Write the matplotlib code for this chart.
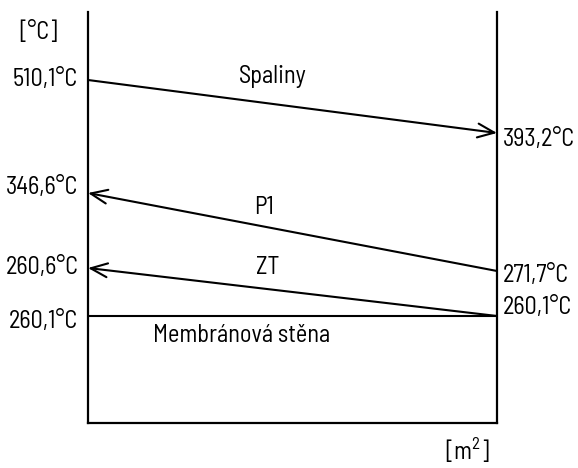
import matplotlib
matplotlib.use('Agg')
import matplotlib.pyplot as plt

plt.rcParams['font.family'] = ['Barlow Semi Condensed', 'DejaVu Sans']
plt.rcParams['mathtext.fontset'] = 'custom'
plt.rcParams['mathtext.rm'] = 'Barlow Semi Condensed'

# teploty proudu (vstup/vystup) a jejich schematicka vyska v diagramu
streams = ['Spaliny', 'P1', 'ZT', 'Membránová stěna']
t_left = [510.1, 346.6, 260.6, 260.1]
t_right = [393.2, 271.7, 260.1, 260.1]
lvl_left = [343, 230, 155, 107]
lvl_right = [290, 152, 107, 107]
# smer toku: 1 = zleva doprava, -1 = zprava doleva, 0 = bez sipky
direction = [1, -1, -1, 0]

def fmt(t):
    return ('%.1f' % t).replace('.', ',') + '°C'

fig = plt.figure(figsize=(5.78, 4.68), dpi=100)
W, H = 578, 468
ax = fig.add_axes([88 / W, (468 - 423) / H, (497 - 88) / W, (423 - 12) / H])
ax.set_xlim(0, 1)
ax.set_ylim(0, 411)
ax.set_xticks([])
ax.set_yticks([])
ax.spines['top'].set_visible(False)
for s in ['left', 'right', 'bottom']:
    ax.spines[s].set_linewidth(1.6)

# offsety popisku v bodech (dx, dy)
lab_left_off = [(-7, 0), (-7, 3.6), (-7, 0), (-7, -4.3)]
lab_right_off = [(4.5, -5), (4.5, -3.6), (4.5, 5.8), None]
name_pos = [(0.37, 347), (0.405, 215), (0.41, 156), (0.16, 88)]

fs = 17.5
arrow = '->,head_length=0.6,head_width=0.25'
for i in range(len(streams)):
    yl, yr = lvl_left[i], lvl_right[i]
    if direction[i] == 1:
        ax.annotate('', xy=(1, yr), xytext=(0, yl),
                    arrowprops=dict(arrowstyle=arrow, lw=1.5, color='black',
                                    shrinkA=0, shrinkB=0, mutation_scale=20))
    elif direction[i] == -1:
        ax.annotate('', xy=(0, yl), xytext=(1, yr),
                    arrowprops=dict(arrowstyle=arrow, lw=1.5, color='black',
                                    shrinkA=0, shrinkB=0, mutation_scale=20))
    else:
        ax.plot([0, 1], [yl, yr], color='black', lw=1.5)
    ax.annotate(fmt(t_left[i]), xy=(0, yl), xytext=lab_left_off[i],
                textcoords='offset points', ha='right', va='center',
                fontsize=fs, annotation_clip=False)
    if lab_right_off[i] is not None:
        ax.annotate(fmt(t_right[i]), xy=(1, yr), xytext=lab_right_off[i],
                    textcoords='offset points', ha='left', va='center',
                    fontsize=fs, annotation_clip=False)
    ax.text(name_pos[i][0], name_pos[i][1], streams[i], ha='left', va='center',
            fontsize=fs)

fig.text(38 / W, 1 - 33 / H, '[°C]', ha='center', va='center', fontsize=fs)
fig.text(467 / W, 1 - 450 / H, '[m$^2$]', ha='center', va='center', fontsize=fs)

fig.savefig('out.png', dpi=100)
